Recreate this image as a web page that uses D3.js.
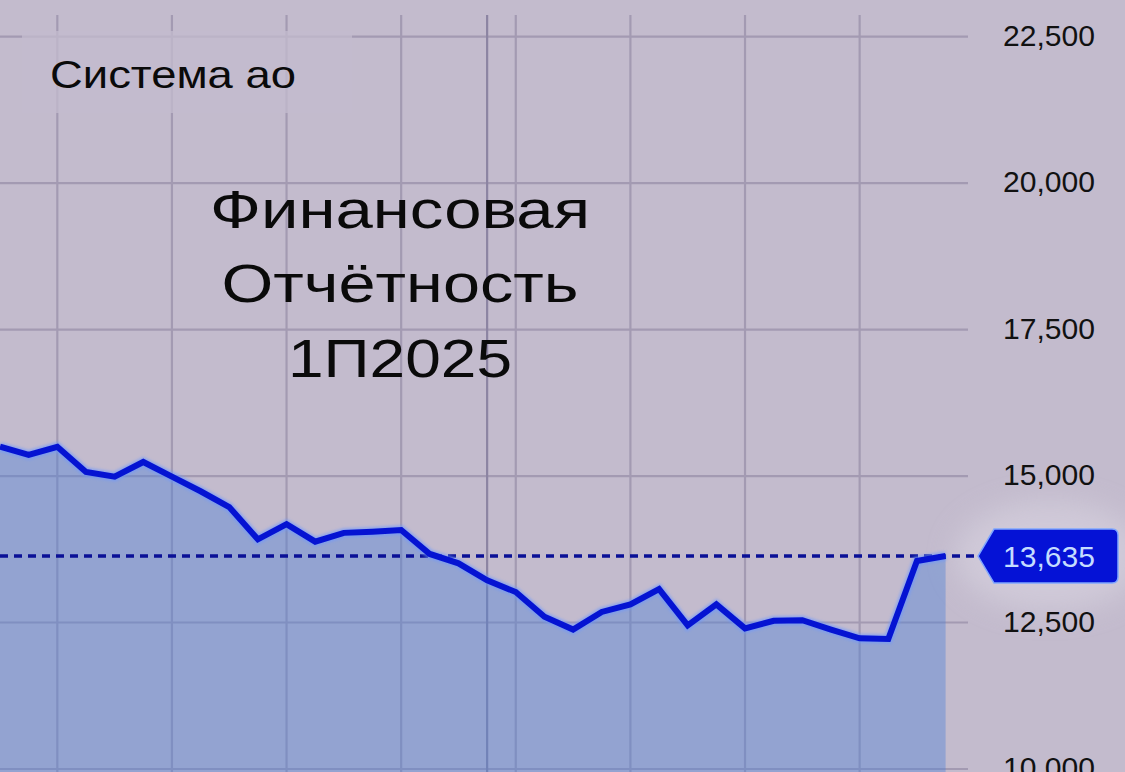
<!DOCTYPE html>
<html>
<head>
<meta charset="utf-8">
<script src="https://cdn.jsdelivr.net/npm/d3@7"></script>
<style>
  html, body { margin: 0; padding: 0; background: #c3bbcd; }
  svg { display: block; }
</style>
</head>
<body>
<svg id="chart" width="1125" height="772"></svg>
<script>
// ---- data ----
const pointIndex = d3.range(34);
const values = [15500, 15360, 15500, 15070, 14990, 15240, 14990, 14740, 14470, 13920,
                14180, 13880, 14030, 14050, 14080, 13670, 13510, 13220, 13020, 12600,
                12380, 12680, 12810, 13070, 12450, 12810, 12400, 12530, 12540, 12380,
                12230, 12220, 13550, 13635];
const yTicks = [10000, 12500, 15000, 17500, 20000, 22500];
const gridIndices = [2, 6, 10, 14, 18, 22, 26, 30];
const markerIndex = [17];
const lastValue = 13635;
const titleLines = ["Финансовая", "Отчётность", "1П2025"];
const subtitle = "Система ао";

// ---- layout ----
const W = 1125, H = 772;
const svg = d3.select("#chart");

const x = d3.scaleLinear().domain([0, 33]).range([0, 945.6]);
const y = d3.scaleLinear().domain([10000, 22500]).range([769, 36.6]);
const gridRight = 968;

svg.append("rect").attr("width", W).attr("height", H).attr("fill", "#c3bbcd");

const defs = svg.append("defs");
const glow = defs.append("filter").attr("id", "glow").attr("x", "-50%").attr("y", "-50%").attr("width", "200%").attr("height", "200%");
glow.append("feGaussianBlur").attr("stdDeviation", 14);
const lineGlow = defs.append("filter").attr("id", "lineGlow").attr("x", "-5%").attr("y", "-20%").attr("width", "110%").attr("height", "140%");
lineGlow.append("feGaussianBlur").attr("stdDeviation", 1.5);

// soft halo behind the price tag
svg.append("ellipse").attr("cx", 1050).attr("cy", y(lastValue)).attr("rx", 95).attr("ry", 55)
  .attr("fill", "#d6d0de").attr("opacity", 0.7).attr("filter", "url(#glow)");

// horizontal grid
svg.append("g").selectAll("line").data(yTicks).join("line")
  .attr("x1", 0).attr("x2", gridRight)
  .attr("y1", d => y(d)).attr("y2", d => y(d))
  .attr("stroke", "#a39ab2").attr("stroke-width", 2.2);

// vertical grid
svg.append("g").selectAll("line").data(gridIndices).join("line")
  .attr("x1", d => x(d)).attr("x2", d => x(d))
  .attr("y1", 15).attr("y2", H)
  .attr("stroke", "#a39ab2").attr("stroke-width", 2.2);
svg.append("g").selectAll("line").data(markerIndex).join("line")
  .attr("x1", d => x(d)).attr("x2", d => x(d))
  .attr("y1", 15).attr("y2", H)
  .attr("stroke", "#8c84a2").attr("stroke-width", 2.2);

// overlay box behind subtitle
svg.append("rect").attr("x", 22).attr("y", 31).attr("width", 330).attr("height", 82)
  .attr("fill", "#c3bbcd").attr("opacity", 0.75);

// area
const area = d3.area().x((d, i) => x(i)).y0(H + 10).y1(d => y(d));
svg.append("path").datum(values).attr("d", area)
  .attr("fill", "#4a7fd8").attr("fill-opacity", 0.4);

// dashed last-value line
svg.append("line").attr("x1", 0).attr("x2", 978)
  .attr("y1", y(lastValue)).attr("y2", y(lastValue))
  .attr("stroke", "#0a1096").attr("stroke-width", 3.5)
  .attr("stroke-dasharray", "8,6");

// line
const line = d3.line().x((d, i) => x(i)).y(d => y(d));
svg.append("path").datum(values).attr("d", line)
  .attr("fill", "none").attr("stroke", "#6e98ff").attr("stroke-width", 9)
  .attr("stroke-linejoin", "miter").attr("opacity", 0.7).attr("filter", "url(#lineGlow)");
svg.append("path").datum(values).attr("d", line)
  .attr("fill", "none").attr("stroke", "#0513d2").attr("stroke-width", 6)
  .attr("stroke-linejoin", "miter");

// y axis labels
const fmt = d3.format(",");
svg.append("g").selectAll("text").data(yTicks).join("text")
  .attr("x", 1095).attr("y", d => y(d) + 9)
  .attr("text-anchor", "end")
  .attr("font-family", "Liberation Sans, Arial, sans-serif")
  .attr("font-size", 29)
  .attr("fill", "#111")
  .attr("textLength", 92).attr("lengthAdjust", "spacingAndGlyphs")
  .text(d => fmt(d));

// price tag
const ty = y(lastValue);
const tagTop = ty - 27, tagBot = ty + 27, tagL = 978, tagTip = 994, tagR = 1118, r = 6;
const tag = d3.path();
tag.moveTo(tagL, ty);
tag.lineTo(tagTip, tagTop);
tag.lineTo(tagR - r, tagTop);
tag.quadraticCurveTo(tagR, tagTop, tagR, tagTop + r);
tag.lineTo(tagR, tagBot - r);
tag.quadraticCurveTo(tagR, tagBot, tagR - r, tagBot);
tag.lineTo(tagTip, tagBot);
tag.closePath();
svg.append("path").attr("d", tag.toString())
  .attr("fill", "#0512d6").attr("stroke", "#7fa6ff").attr("stroke-width", 1.5);
svg.append("text").attr("x", 1049).attr("y", ty + 10.5)
  .attr("text-anchor", "middle")
  .attr("font-family", "Liberation Sans, Arial, sans-serif")
  .attr("font-size", 29).attr("fill", "#c4dcff")
  .attr("textLength", 92).attr("lengthAdjust", "spacingAndGlyphs")
  .text(fmt(lastValue));

// subtitle
svg.append("text").attr("x", 50).attr("y", 88)
  .attr("font-family", "Liberation Sans, Arial, sans-serif")
  .attr("font-size", 39).attr("fill", "#0a0a0a")
  .attr("textLength", 246).attr("lengthAdjust", "spacingAndGlyphs")
  .text(subtitle);

// title
const titleBase = [228, 302, 377];
const titleWidth = [380, 357, 224];
svg.append("g").selectAll("text").data(titleLines).join("text")
  .attr("x", 400).attr("y", (d, i) => titleBase[i])
  .attr("text-anchor", "middle")
  .attr("font-family", "Liberation Sans, Arial, sans-serif")
  .attr("font-size", 54).attr("fill", "#0a0a0a")
  .attr("textLength", (d, i) => titleWidth[i]).attr("lengthAdjust", "spacingAndGlyphs")
  .text(d => d);
</script>
</body>
</html>
